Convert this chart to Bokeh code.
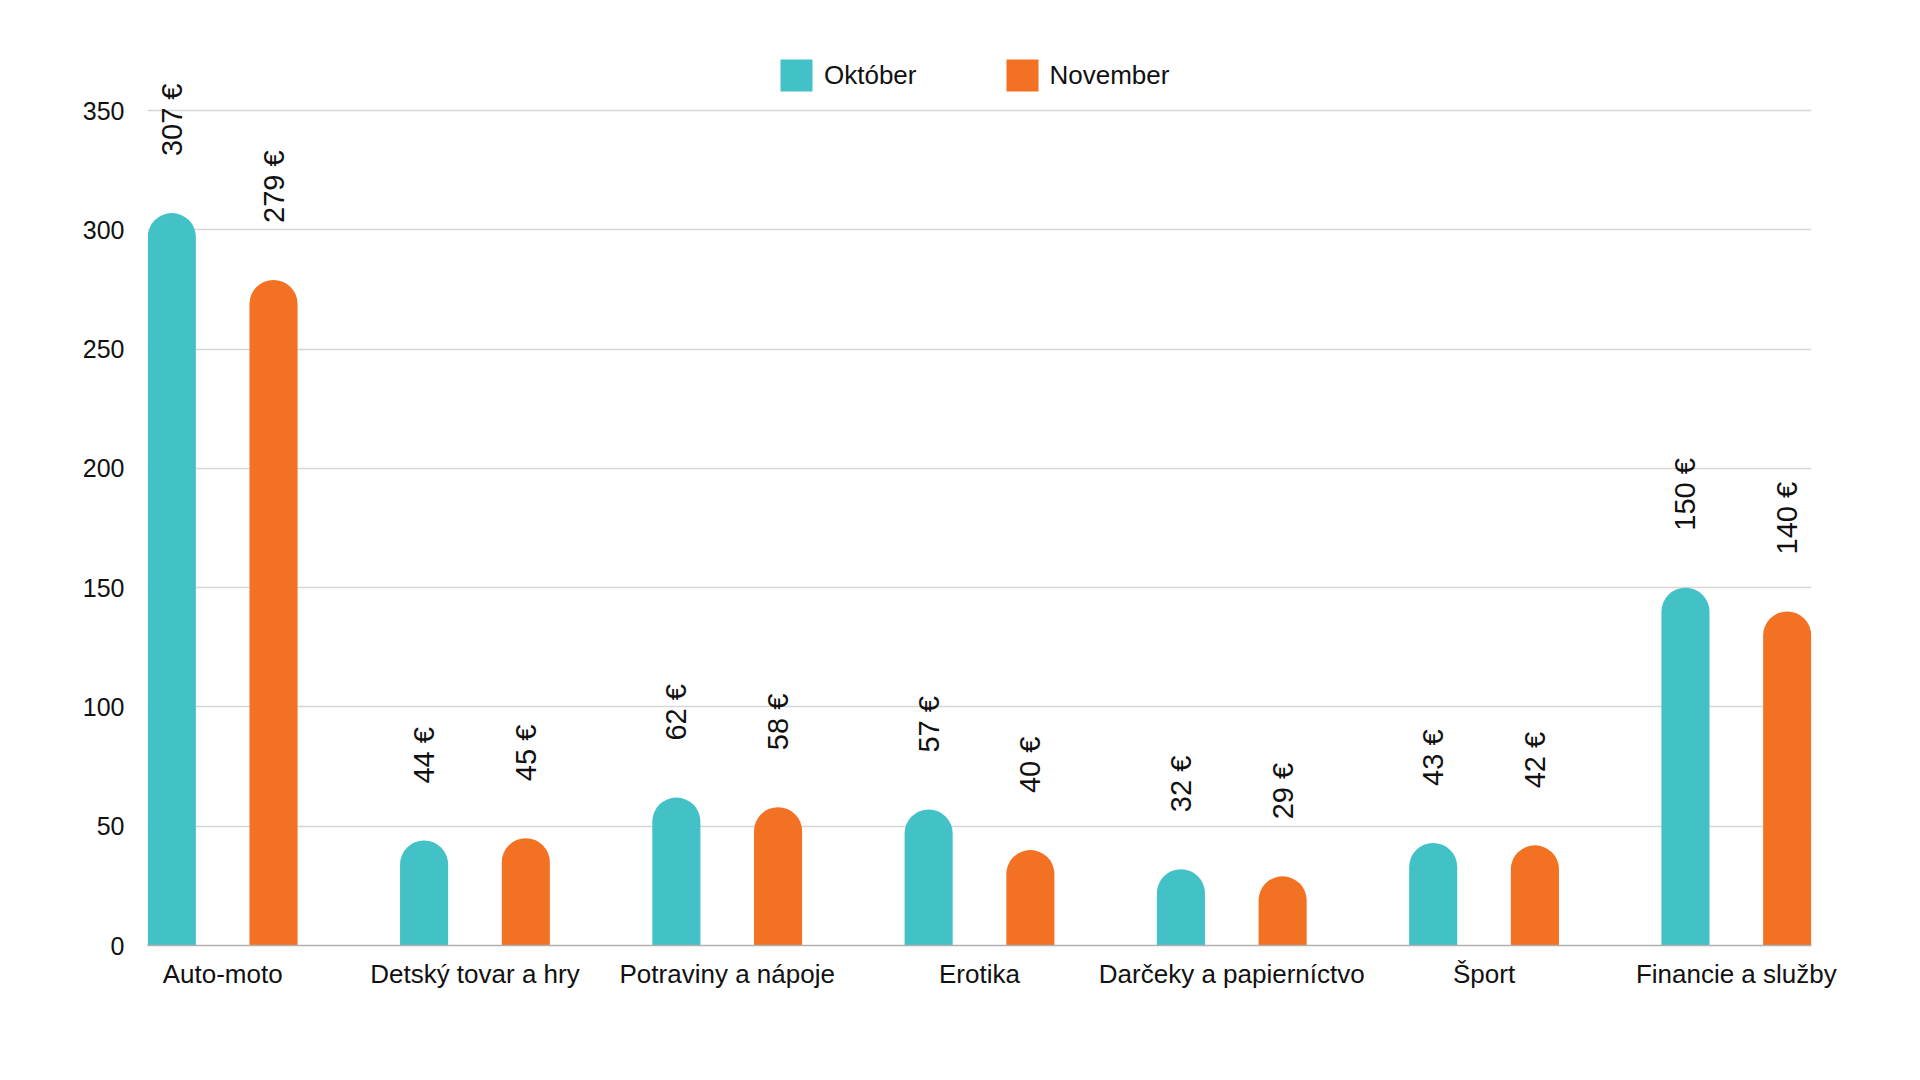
import math
from bokeh.plotting import figure
from bokeh.models import Range1d, FixedTicker, ColumnDataSource, Legend, LegendItem
from bokeh.core.properties import value
from bokeh.embed import file_html
from bokeh.resources import INLINE

categories = ["Auto-moto", "Detský tovar a hry", "Potraviny a nápoje", "Erotika",
              "Darčeky a papierníctvo", "Šport", "Financie a služby"]
october = [307, 44, 62, 57, 32, 43, 150]
november = [279, 45, 58, 40, 29, 42, 140]
series_names = ["Október", "November"]
y_ticks = [0, 50, 100, 150, 200, 250, 300, 350]

TEAL = "#42C1C7"
ORANGE = "#F37122"
FONT = "Liberation Sans"

idx = list(range(len(categories)))
dodge = 0.2016
bar_w = 0.1906

# frame extends above the 350 gridline so labels/legend are not clipped
FRAME_TOP, GRID_TOP, FRAME_BOTTOM = 40, 110, 945
y_end = 350 * (FRAME_BOTTOM - FRAME_TOP) / (FRAME_BOTTOM - GRID_TOP)

src_o = ColumnDataSource(dict(x=[i - dodge for i in idx], top=october,
                              lab=[f"{v} €" for v in october]))
src_n = ColumnDataSource(dict(x=[i + dodge for i in idx], top=november,
                              lab=[f"{v} €" for v in november]))

p = figure(width=1904, height=1064, output_backend="svg", toolbar_location=None,
           x_range=Range1d(-0.298, len(categories) - 1 + 0.298),
           y_range=Range1d(0, y_end),
           min_border_left=147, min_border_right=93, min_border_top=FRAME_TOP,
           min_border_bottom=1064 - FRAME_BOTTOM)
p.outline_line_color = None
p.background_fill_color = "white"
p.border_fill_color = "white"

r_o = p.vbar(x="x", top="top", width=bar_w, source=src_o, fill_color=TEAL, line_color=None,
             border_radius=(24, 24, 0, 0))
r_n = p.vbar(x="x", top="top", width=bar_w, source=src_n, fill_color=ORANGE, line_color=None,
             border_radius=(24, 24, 0, 0))

for src in (src_o, src_n):
    p.text(x="x", y="top", text="lab", source=src, angle=math.pi / 2,
           text_align="left", text_baseline="middle", y_offset=-57,
           text_font=value(FONT), text_font_size="29px", text_color="#111111")

p.xgrid.grid_line_color = None
p.ygrid.grid_line_color = "#d6d6d6"
p.ygrid.grid_line_width = 1.5
p.ygrid.ticker = FixedTicker(ticks=y_ticks)

p.yaxis.ticker = FixedTicker(ticks=y_ticks)
p.yaxis.axis_line_color = None
p.yaxis.major_tick_line_color = None
p.yaxis.minor_tick_line_color = None
p.yaxis.major_label_standoff = 17
p.yaxis.major_label_text_font = FONT
p.yaxis.major_label_text_font_size = "25px"
p.yaxis.major_label_text_color = "#111111"

p.xaxis.ticker = FixedTicker(ticks=idx)
p.xaxis.major_label_overrides = {i: c for i, c in zip(idx, categories)}
p.xaxis.axis_line_color = "#b0b0b0"
p.xaxis.axis_line_width = 1.5
p.xaxis.major_tick_line_color = None
p.xaxis.minor_tick_line_color = None
p.xaxis.major_label_standoff = 7
p.xaxis.major_label_text_font = FONT
p.xaxis.major_label_text_font_size = "26px"
p.xaxis.major_label_text_color = "#111111"

legend = Legend(items=[LegendItem(label=series_names[0], renderers=[r_o]),
                       LegendItem(label=series_names[1], renderers=[r_n])],
                orientation="horizontal", location=(629, 850),
                glyph_width=40, glyph_height=40, label_standoff=8, spacing=85,
                padding=0, margin=0, border_line_color=None, background_fill_alpha=0,
                label_text_font=FONT, label_text_font_size="26px", label_text_color="#111111",
                label_text_baseline="middle")
p.add_layout(legend, "center")

open("out.html", "w").write(file_html(p, INLINE))
